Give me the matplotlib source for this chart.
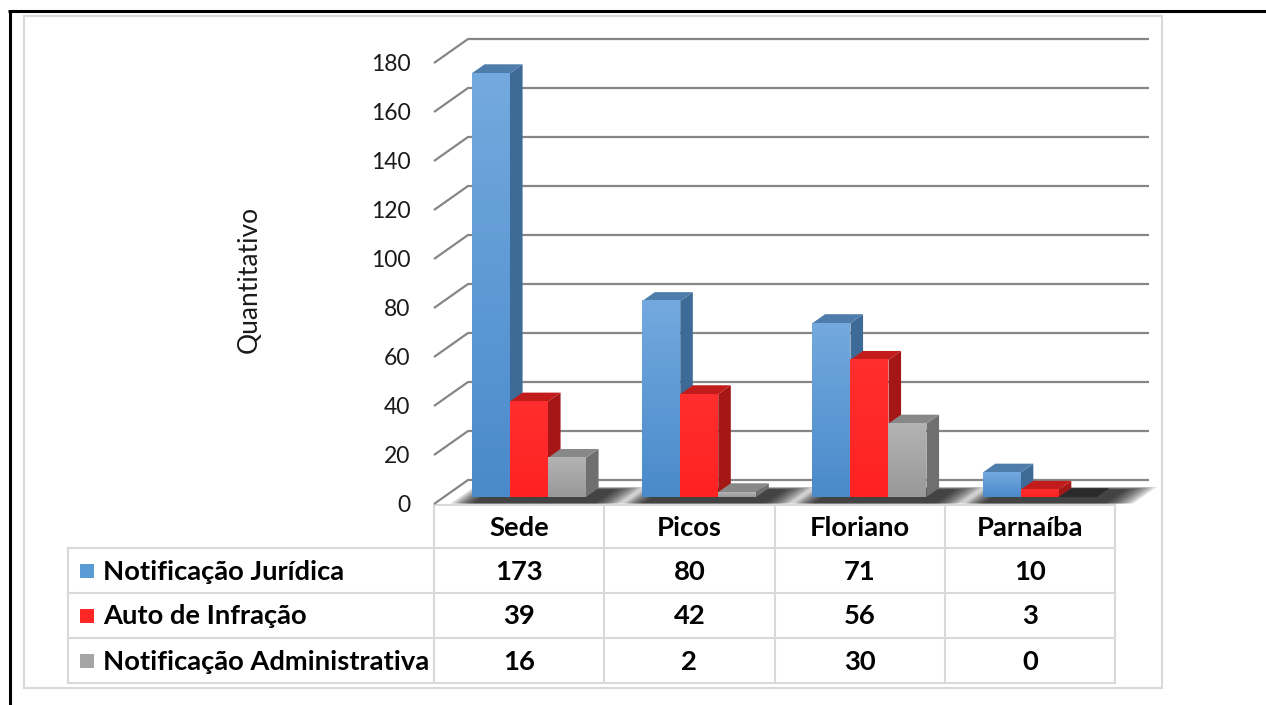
import numpy as np
import matplotlib.pyplot as plt
from matplotlib.colors import to_rgb
from matplotlib.patches import Polygon, Rectangle

plt.rcParams['font.family'] = ['Lato', 'DejaVu Sans']

categories = ["Sede", "Picos", "Floriano", "Parnaíba"]
series_names = ["Notificação Jurídica", "Auto de Infração", "Notificação Administrativa"]
notif_juridica = [173, 80, 71, 10]
auto_infracao = [39, 42, 56, 3]
notif_admin = [16, 2, 30, 0]
y_ticks = [0, 20, 40, 60, 80, 100, 120, 140, 160, 180]
y_label = "Quantitativo"

series = [notif_juridica, auto_infracao, notif_admin]
face_col = ["#5b9bd5", "#ff2626", "#a6a6a6"]
side_col = ["#3d6a96", "#a51717", "#6f6f6f"]
top_col = ["#4e7cab", "#c21b1b", "#888888"]
grad = [("#73a9de", "#4a8acb"), ("#ff2e2e", "#ff2222"), ("#b3b3b3", "#999999")]
legend_col = ["#5b9bd5", "#ff2626", "#a5a5a5"]

W, H = 1266, 705
fig = plt.figure(figsize=(W / 100, H / 100), dpi=100)

# front plane of the 3D box in pixels
X0, CW = 434, 170.25
Y0, SY = 504, 2.45
ncat = len(categories)

# overlay in pixel coordinates for frame and data table
ov = fig.add_axes([0, 0, 1, 1], zorder=0)
ov.set_xlim(0, W)
ov.set_ylim(H, 0)
ov.axis("off")
ov.plot([8, W], [11, 11], color="black", lw=2.2, solid_capstyle="butt")
ov.plot([9.5, 9.5], [10, H], color="black", lw=2.2, solid_capstyle="butt")
ov.add_patch(Rectangle((24, 16), 1162 - 24, 688 - 16, fill=False, ec="#d9d9d9", lw=1.5))

ax = fig.add_axes([X0 / W, (H - Y0) / H, ncat * CW / W, 180 * SY / H], zorder=1)
ax.set_xlim(0, ncat)
ax.set_ylim(0, 180)
ax.patch.set_alpha(0)
for s in ax.spines.values():
    s.set_visible(False)
ax.set_xticks([])
ax.set_yticks(y_ticks)
ax.tick_params(axis="y", length=0, pad=17, labelsize=16.5, labelcolor="#1a1a1a")

# depth vector (full depth) in data units
DX, DY = 34 / CW, 24 / SY


def proj(x, v, d):
    return (x + d * DX, v + d * DY)


grid_col = "#868686"
for v in y_ticks:
    pts = [proj(0, v, 0), proj(0, v, 1), proj(ncat, v, 1)]
    ax.plot([p[0] for p in pts], [p[1] for p in pts], color=grid_col, lw=1.6,
            clip_on=False, zorder=1, solid_capstyle="butt")

bw = 38 / CW
gap = (1 - 3 * bw) / 2
df, dd = 0.29, 0.37

# soft floor shadows under each group
for i in range(ncat):
    xl = i + gap + df * DX
    xr = i + gap + 3 * bw + df * DX
    for k in range(10):
        f = k / 9
        poly = [proj(xl - 0.13 * (1 - f), 0, 0.02), proj(xr + 0.05 + 0.16 * (1 - f), 0, 0.02),
                proj(xr + 0.05 + 0.16 * (1 - f), 0, df + dd + 0.05 - 0.1 * f),
                proj(xl - 0.13 * (1 - f), 0, df + dd + 0.05 - 0.1 * f)]
        ax.add_patch(Polygon(poly, closed=True, fc="black", ec="none", alpha=0.12,
                             clip_on=False, zorder=2))

z = 3
for i in range(ncat):
    for s, vals in enumerate(series):
        v = vals[i]
        xl = i + gap + s * bw
        xr = xl + bw
        side = [proj(xr, 0, df), proj(xr, 0, df + dd), proj(xr, v, df + dd), proj(xr, v, df)]
        top = [proj(xl, v, df), proj(xr, v, df), proj(xr, v, df + dd), proj(xl, v, df + dd)]
        ax.add_patch(Polygon(side, closed=True, fc=side_col[s], ec="none", clip_on=False, zorder=z))
        ax.add_patch(Polygon(top, closed=True, fc=top_col[s] if v > 0 else "#2b2b2b",
                             ec="none", clip_on=False, zorder=z))
        bar = ax.bar(xl + df * DX, v, width=bw, bottom=df * DY, align="edge",
                     color=face_col[s], lw=0, zorder=z + 0.5, clip_on=False)[0]
        if v > 0:
            c1 = np.array(to_rgb(grad[s][0]))
            c2 = np.array(to_rgb(grad[s][1]))
            t = np.linspace(0, 1, 64)[:, None]
            img = (c1 * (1 - t) + c2 * t)[:, None, :]
            im = ax.imshow(img, extent=(xl + df * DX, xr + df * DX, df * DY, df * DY + v),
                           aspect="auto", origin="upper", zorder=z + 0.6, clip_on=False)
            im.set_clip_path(bar)
        z += 1

ax.set_xlim(0, ncat)
ax.set_ylim(0, 180)

fig.text(249 / W, 1 - 279 / H, y_label, rotation=90, ha="center", va="center",
         fontsize=19, color="#1a1a1a")

# data table
tcol = "#d9d9d9"
tlw = 1.5
rows_y = [505, 548, 593, 638, 683]
xL = 68
col_x = [X0 + k * CW for k in range(ncat + 1)]
ov.plot([col_x[0], col_x[-1]], [rows_y[0], rows_y[0]], color=tcol, lw=tlw)
for y in rows_y[1:]:
    ov.plot([xL, col_x[-1]], [y, y], color=tcol, lw=tlw)
ov.plot([xL, xL], [rows_y[1], rows_y[-1]], color=tcol, lw=tlw)
for x in col_x:
    ov.plot([x, x], [rows_y[0], rows_y[-1]], color=tcol, lw=tlw)

tfs = 19.7
for k, c in enumerate(categories):
    ov.text((col_x[k] + col_x[k + 1]) / 2, (rows_y[0] + rows_y[1]) / 2 + 1, c,
            ha="center", va="center", fontsize=tfs, fontweight="bold", color="black")
for r, name in enumerate(series_names):
    yc = (rows_y[r + 1] + rows_y[r + 2]) / 2
    ov.add_patch(Rectangle((80, yc - 7), 14, 14, fc=legend_col[r], ec="none"))
    ov.text(103, yc + 1, name, ha="left", va="center", fontsize=tfs,
            fontweight="bold", color="black")
    for k in range(ncat):
        ov.text((col_x[k] + col_x[k + 1]) / 2, yc + 1, str(series[r][k]),
                ha="center", va="center", fontsize=tfs, fontweight="bold", color="black")

fig.savefig("out.png", dpi=100, facecolor="white")
